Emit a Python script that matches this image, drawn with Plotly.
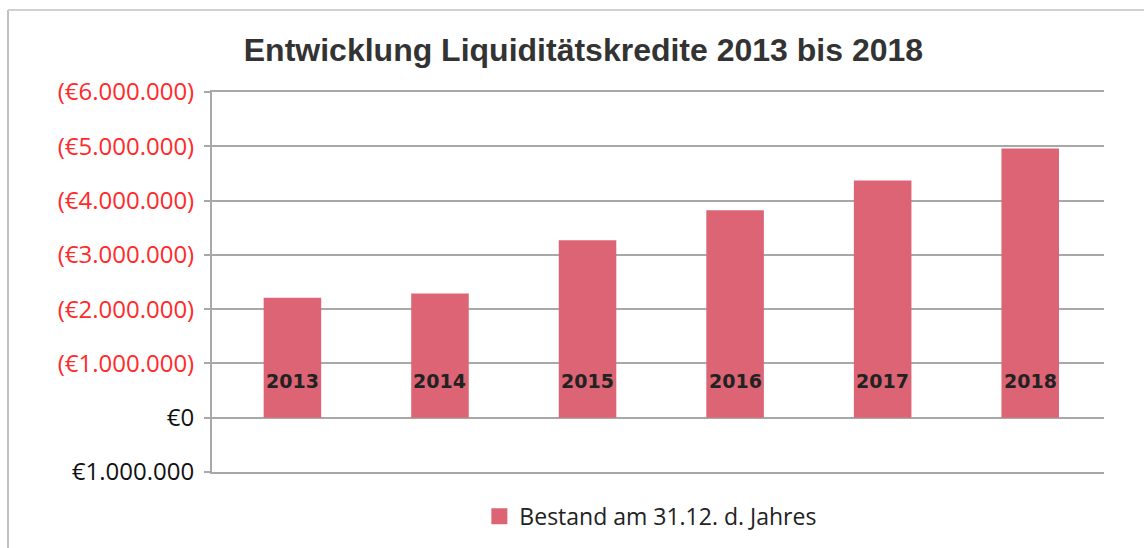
import plotly.graph_objects as go

years = ["2013", "2014", "2015", "2016", "2017", "2018"]
bestand = [-2210000, -2290000, -3270000, -3820000, -4370000, -4960000]
tick_vals = [-6000000, -5000000, -4000000, -3000000, -2000000, -1000000, 0, 1000000]
tick_text = ["(€6.000.000)", "(€5.000.000)", "(€4.000.000)", "(€3.000.000)",
             "(€2.000.000)", "(€1.000.000)", "€0", "€1.000.000"]
series_name = "Bestand am 31.12. d. Jahres"

RED = "#ff2a2a"
BAR = "#dd6474"
GRID = "#a8a8a8"

def colored(v, t):
    if v < 0:
        return f'<span style="color:{RED}">{t}</span>'
    return f'<span style="color:#111111">{t}</span>'

fig = go.Figure()
fig.add_trace(go.Bar(
    x=years, y=bestand, name=series_name, showlegend=False,
    marker=dict(color=BAR, line=dict(width=0)),
    hoverinfo="x+y",
))
# legend entry with a larger square key
fig.add_trace(go.Scatter(
    x=[None], y=[None], mode="markers", name=series_name,
    marker=dict(symbol="square", size=17, color=BAR),
))

# category labels drawn inside the bars (category axis crosses at 0)
for i, yr in enumerate(years):
    fig.add_annotation(x=i, y=0, xref="x", yref="y", text=f"<b>{yr}</b>",
                       showarrow=False, yanchor="bottom", yshift=24,
                       font=dict(family="DejaVu Sans", size=19, color="#222222"))

fig.update_layout(
    width=1144, height=548,
    paper_bgcolor="white", plot_bgcolor="white",
    margin=dict(l=212, r=40, t=92, b=76, autoexpand=False),
    title=dict(text="<b>Entwicklung Liquiditätskredite 2013 bis 2018</b>",
               x=0.51, xanchor="center", y=0.91, yanchor="middle",
               font=dict(family="Liberation Sans", size=32, color="#333333")),
    showlegend=True,
    legend=dict(orientation="h", x=0.492, xanchor="center", y=-0.06, yanchor="top",
                font=dict(family="Open Sans", size=23, color="#222222"),
                itemsizing="trace"),
    bargap=0.61,
)
fig.update_xaxes(type="category", range=[-0.545, 5.5], showticklabels=False,
                 showgrid=False, showline=True, mirror=True, linecolor=GRID,
                 linewidth=2, ticks="", zeroline=False)
fig.update_yaxes(range=[1000000, -6000000], tickvals=tick_vals,
                 ticktext=[colored(v, t) for v, t in zip(tick_vals, tick_text)],
                 tickfont=dict(family="Open Sans", size=24),
                 showgrid=True, gridcolor=GRID, gridwidth=2,
                 zeroline=True, zerolinecolor=GRID, zerolinewidth=2,
                 showline=True, linecolor=GRID, linewidth=2,
                 ticks="outside", ticklen=6, tickcolor=GRID, tickwidth=2,
                 ticklabelstandoff=5)

# chart border (frame of the original chart)
fig.add_shape(type="line", xref="paper", yref="paper", x0=-0.2287, x1=-0.2287,
              y0=1.2158, y1=-0.3, line=dict(color="#c0c0c0", width=2))
fig.add_shape(type="line", xref="paper", yref="paper", x0=-0.2287, x1=1.1,
              y0=1.2158, y1=1.2158, line=dict(color="#d0d0d0", width=2))

fig.write_html("out.html", config={"displayModeBar": False},
               post_script="document.body.style.margin='0';document.body.style.overflow='hidden';")
